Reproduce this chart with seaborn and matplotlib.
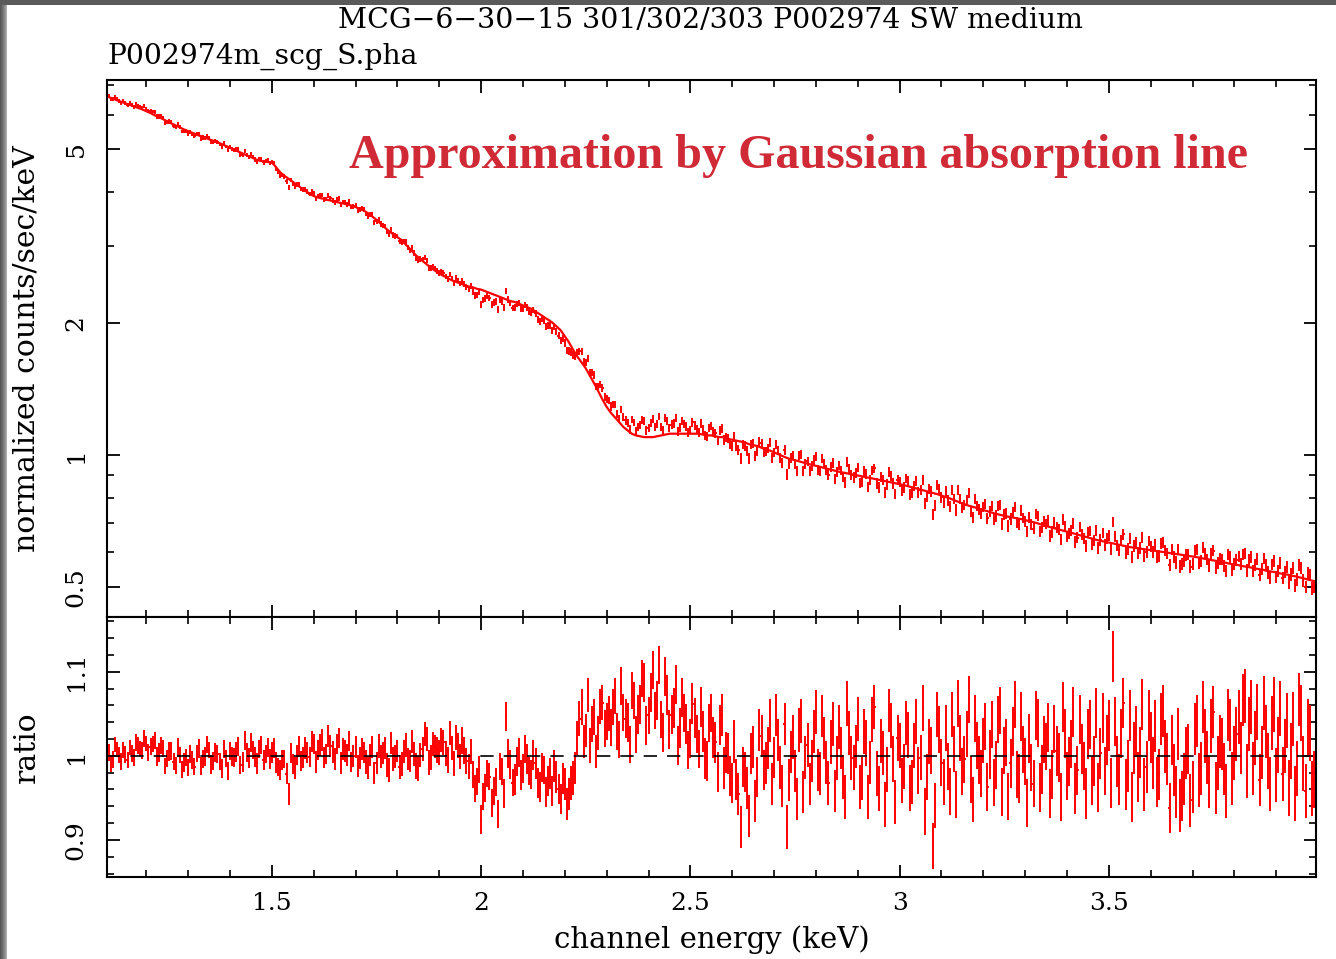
import numpy as np
import pandas as pd
import matplotlib
matplotlib.use("Agg")
import matplotlib.pyplot as plt
from matplotlib.ticker import FixedLocator, MultipleLocator, FuncFormatter, NullFormatter
from matplotlib.patches import Rectangle
import seaborn as sns

# ---------------- data ----------------
# channel set A (x.x1, x.x2, ...)
energy_a = [
    1.11, 1.12, 1.13, 1.14, 1.15, 1.16, 1.17, 1.18, 1.19, 1.20,
    1.21, 1.22, 1.23, 1.24, 1.25, 1.26, 1.27, 1.28, 1.29, 1.30,
    1.31, 1.32, 1.33, 1.34, 1.35, 1.36, 1.37, 1.38, 1.39, 1.40,
    1.41, 1.42, 1.43, 1.44, 1.45, 1.46, 1.47, 1.48, 1.49, 1.50,
    1.51, 1.52, 1.53, 1.54, 1.55, 1.56, 1.57, 1.58, 1.59, 1.60,
    1.61, 1.62, 1.63, 1.64, 1.65, 1.66, 1.67, 1.68, 1.69, 1.70,
    1.71, 1.72, 1.73, 1.74, 1.75, 1.76, 1.77, 1.78, 1.79, 1.80,
    1.81, 1.82, 1.83, 1.84, 1.85, 1.86, 1.87, 1.88, 1.89, 1.90,
    1.91, 1.92, 1.93, 1.94, 1.95, 1.96, 1.97, 1.98, 1.99, 2.00,
    2.01, 2.02, 2.03, 2.04, 2.05, 2.06, 2.07, 2.08, 2.09, 2.10,
    2.11, 2.12, 2.13, 2.14, 2.15, 2.16, 2.17, 2.18, 2.19, 2.20,
    2.21, 2.22, 2.23, 2.24, 2.25, 2.26, 2.27, 2.28, 2.29, 2.30,
    2.31, 2.32, 2.33, 2.34, 2.35, 2.36, 2.37, 2.38, 2.39, 2.40,
    2.41, 2.42, 2.43, 2.44, 2.45, 2.46, 2.47, 2.48, 2.49, 2.50,
    2.51, 2.52, 2.53, 2.54, 2.55, 2.56, 2.57, 2.58, 2.59, 2.60,
    2.61, 2.62, 2.63, 2.64, 2.65, 2.66, 2.67, 2.68, 2.69, 2.70,
    2.71, 2.72, 2.73, 2.74, 2.75, 2.76, 2.77, 2.78, 2.79, 2.80,
    2.81, 2.82, 2.83, 2.84, 2.85, 2.86, 2.87, 2.88, 2.89, 2.90,
    2.91, 2.92, 2.93, 2.94, 2.95, 2.96, 2.97, 2.98, 2.99, 3.00,
    3.01, 3.02, 3.03, 3.04, 3.05, 3.06, 3.07, 3.08, 3.09, 3.10,
    3.11, 3.12, 3.13, 3.14, 3.15, 3.16, 3.17, 3.18, 3.19, 3.20,
    3.21, 3.22, 3.23, 3.24, 3.25, 3.26, 3.27, 3.28, 3.29, 3.30,
    3.31, 3.32, 3.33, 3.34, 3.35, 3.36, 3.37, 3.38, 3.39, 3.40,
    3.41, 3.42, 3.43, 3.44, 3.45, 3.46, 3.47, 3.48, 3.49, 3.50,
    3.51, 3.52, 3.53, 3.54, 3.55, 3.56, 3.57, 3.58, 3.59, 3.60,
    3.61, 3.62, 3.63, 3.64, 3.65, 3.66, 3.67, 3.68, 3.69, 3.70,
    3.71, 3.72, 3.73, 3.74, 3.75, 3.76, 3.77, 3.78, 3.79, 3.80,
    3.81, 3.82, 3.83, 3.84, 3.85, 3.86, 3.87, 3.88, 3.89, 3.90,
    3.91, 3.92, 3.93, 3.94, 3.95, 3.96, 3.97, 3.98, 3.99,
]

model_a = [
    6.58, 6.53, 6.47, 6.42, 6.37, 6.32, 6.27, 6.22, 6.17, 6.11,
    6.05, 5.98, 5.92, 5.86, 5.79, 5.73, 5.67, 5.61, 5.55, 5.50,
    5.45, 5.40, 5.36, 5.32, 5.27, 5.23, 5.19, 5.14, 5.09, 5.04,
    4.99, 4.94, 4.89, 4.84, 4.80, 4.75, 4.71, 4.69, 4.68, 4.66,
    4.55, 4.43, 4.35, 4.28, 4.21, 4.15, 4.08, 4.02, 3.96, 3.91,
    3.88, 3.86, 3.84, 3.82, 3.80, 3.78, 3.76, 3.74, 3.72, 3.69,
    3.66, 3.62, 3.57, 3.51, 3.45, 3.38, 3.31, 3.25, 3.20, 3.15,
    3.10, 3.03, 2.96, 2.89, 2.83, 2.78, 2.73, 2.68, 2.64, 2.60,
    2.57, 2.54, 2.51, 2.49, 2.47, 2.45, 2.43, 2.42, 2.40, 2.39,
    2.37, 2.35, 2.33, 2.31, 2.29, 2.27, 2.25, 2.24, 2.22, 2.20,
    2.18, 2.16, 2.13, 2.10, 2.07, 2.04, 2.01, 1.97, 1.93, 1.87,
    1.81, 1.74, 1.68, 1.63, 1.58, 1.52, 1.46, 1.40, 1.34, 1.29,
    1.25, 1.22, 1.19, 1.16, 1.14, 1.12, 1.11, 1.105, 1.10, 1.10,
    1.10, 1.105, 1.11, 1.115, 1.12, 1.12, 1.12, 1.12, 1.12, 1.12,
    1.12, 1.12, 1.115, 1.11, 1.11, 1.105, 1.10, 1.10, 1.09, 1.085,
    1.08, 1.075, 1.07, 1.06, 1.055, 1.05, 1.04, 1.03, 1.025, 1.015,
    1.005, 0.995, 0.987, 0.980, 0.974, 0.968, 0.962, 0.956, 0.951, 0.946,
    0.941, 0.935, 0.930, 0.925, 0.920, 0.915, 0.911, 0.907, 0.903, 0.899,
    0.895, 0.891, 0.887, 0.883, 0.879, 0.875, 0.871, 0.867, 0.863, 0.859,
    0.855, 0.850, 0.845, 0.840, 0.835, 0.830, 0.825, 0.820, 0.815, 0.809,
    0.803, 0.797, 0.790, 0.783, 0.776, 0.770, 0.765, 0.760, 0.755, 0.750,
    0.745, 0.740, 0.735, 0.731, 0.727, 0.724, 0.721, 0.718, 0.715, 0.711,
    0.707, 0.703, 0.699, 0.694, 0.690, 0.685, 0.681, 0.677, 0.673, 0.669,
    0.665, 0.661, 0.657, 0.653, 0.649, 0.645, 0.641, 0.638, 0.635, 0.632,
    0.629, 0.626, 0.623, 0.620, 0.617, 0.615, 0.613, 0.611, 0.609, 0.607,
    0.605, 0.603, 0.601, 0.599, 0.597, 0.595, 0.593, 0.591, 0.589, 0.587,
    0.585, 0.583, 0.580, 0.578, 0.575, 0.573, 0.570, 0.568, 0.565, 0.563,
    0.561, 0.558, 0.556, 0.554, 0.551, 0.549, 0.547, 0.544, 0.542, 0.540,
    0.537, 0.535, 0.533, 0.530, 0.528, 0.525, 0.522, 0.519, 0.516,
]

ratio_a = [
    1.004, 0.996, 1.008, 0.993, 1.002, 1.010, 0.998, 1.012, 1.006, 1.015,
    1.011, 1.018, 1.004, 1.009, 0.997, 1.006, 0.989, 1.001, 0.992, 0.986,
    0.995, 1.003, 0.988, 0.999, 1.007, 0.994, 1.002, 0.985, 0.997, 1.006,
    0.998, 1.011, 0.993, 1.004, 1.016, 0.999, 1.008, 0.995, 1.010, 1.004,
    0.992, 0.983, 0.996, 0.955, 0.990, 1.001, 0.994, 1.009, 0.999, 1.014,
    1.007, 1.019, 1.002, 1.012, 0.996, 1.021, 1.008, 1.001, 0.993, 1.010,
    0.997, 1.004, 0.986, 1.011, 0.992, 0.999, 1.009, 0.983, 0.996, 1.006,
    0.990, 1.013, 0.994, 1.002, 0.985, 1.008, 1.020, 0.998, 1.011, 1.004,
    1.016, 0.995, 1.009, 1.022, 0.999, 1.006, 0.987, 0.978, 0.969, 0.924,
    0.962, 0.975, 0.958, 0.931, 0.981, 1.047, 0.990, 0.972, 1.004, 0.985,
    0.996, 0.978, 0.991, 0.963, 0.983, 0.970, 0.958, 0.975, 0.949, 0.966,
    0.955, 0.974, 1.021, 1.058, 1.030, 1.012, 1.046, 1.027, 1.063, 1.041,
    1.034, 1.071, 1.019, 1.052, 1.040, 1.078, 1.025, 1.061, 1.087, 1.048,
    1.102, 1.066, 1.043, 1.094, 1.031, 1.057, 1.012, 1.069, 1.038, 1.021,
    1.045, 1.008, 1.029, 0.994, 1.051, 1.016, 1.037, 0.985, 1.003, 0.968,
    0.972, 0.915, 0.981, 0.928, 1.010, 0.975, 1.024, 0.991, 1.042, 0.998,
    1.019, 0.964, 0.915, 1.005, 0.982, 1.031, 0.957, 1.013, 0.994, 1.052,
    0.979, 1.021, 0.968, 1.038, 0.997, 1.009, 0.951, 1.027, 0.986, 1.044,
    0.973, 1.015, 0.992, 1.058, 0.961, 1.003, 0.984, 1.036, 0.945, 1.012,
    0.987, 1.025, 0.969, 1.041, 0.998, 0.934, 1.017, 0.893, 1.049, 0.992,
    1.033, 0.958, 1.008, 1.062, 0.981, 1.026, 0.972, 1.044, 0.995, 1.018,
    0.963, 1.037, 0.989, 1.054, 1.006, 0.952, 1.029, 0.978, 1.047, 0.993,
    1.021, 0.967, 1.039, 0.984, 1.011, 0.955, 1.032, 0.998, 1.058, 0.976,
    1.014, 0.961, 1.043, 0.988, 1.026, 0.971, 1.051, 1.003, 0.982, 1.036,
    1.118, 0.993, 1.027, 0.966, 1.048, 1.009, 0.975, 1.061, 0.987, 1.022,
    1.035, 0.978, 1.053, 0.996, 1.019, 0.957, 0.941, 0.972, 1.008, 0.963,
    1.041, 0.985, 1.024, 0.969, 1.052, 0.991, 1.014, 0.958, 1.037, 1.003,
    1.046, 1.066, 0.982, 1.058, 1.021, 0.971, 1.063, 0.994, 1.039, 0.977,
    1.056, 1.012, 0.962, 1.044, 0.985, 1.051, 0.958, 1.027, 0.972,
]

err_a = [
    0.010, 0.010, 0.009, 0.010, 0.010, 0.009, 0.010, 0.010, 0.010, 0.009,
    0.010, 0.010, 0.011, 0.010, 0.010, 0.011, 0.010, 0.010, 0.011, 0.010,
    0.011, 0.010, 0.011, 0.011, 0.010, 0.011, 0.011, 0.011, 0.010, 0.011,
    0.011, 0.011, 0.012, 0.011, 0.011, 0.012, 0.011, 0.012, 0.011, 0.012,
    0.012, 0.012, 0.011, 0.013, 0.012, 0.012, 0.012, 0.013, 0.012, 0.012,
    0.012, 0.013, 0.012, 0.013, 0.013, 0.012, 0.013, 0.013, 0.012, 0.013,
    0.013, 0.013, 0.014, 0.013, 0.013, 0.014, 0.013, 0.014, 0.014, 0.013,
    0.014, 0.014, 0.013, 0.014, 0.015, 0.014, 0.014, 0.015, 0.014, 0.015,
    0.015, 0.015, 0.014, 0.015, 0.015, 0.016, 0.015, 0.016, 0.016, 0.017,
    0.017, 0.016, 0.017, 0.017, 0.016, 0.017, 0.017, 0.018, 0.017, 0.017,
    0.018, 0.017, 0.018, 0.018, 0.017, 0.018, 0.018, 0.019, 0.018, 0.019,
    0.019, 0.020, 0.020, 0.021, 0.020, 0.021, 0.021, 0.020, 0.021, 0.022,
    0.022, 0.021, 0.022, 0.022, 0.023, 0.022, 0.022, 0.023, 0.023, 0.022,
    0.023, 0.023, 0.022, 0.023, 0.023, 0.024, 0.023, 0.023, 0.024, 0.023,
    0.024, 0.023, 0.024, 0.024, 0.023, 0.024, 0.024, 0.025, 0.024, 0.024,
    0.024, 0.025, 0.024, 0.025, 0.025, 0.024, 0.025, 0.025, 0.025, 0.024,
    0.025, 0.025, 0.026, 0.025, 0.025, 0.026, 0.025, 0.026, 0.025, 0.026,
    0.026, 0.025, 0.026, 0.026, 0.026, 0.025, 0.026, 0.026, 0.027, 0.026,
    0.026, 0.027, 0.026, 0.026, 0.027, 0.026, 0.027, 0.027, 0.026, 0.027,
    0.027, 0.027, 0.026, 0.027, 0.027, 0.028, 0.027, 0.027, 0.027, 0.028,
    0.027, 0.028, 0.027, 0.028, 0.028, 0.027, 0.028, 0.028, 0.028, 0.027,
    0.028, 0.028, 0.029, 0.028, 0.028, 0.028, 0.029, 0.028, 0.029, 0.028,
    0.029, 0.028, 0.029, 0.029, 0.028, 0.029, 0.029, 0.029, 0.030, 0.029,
    0.029, 0.030, 0.029, 0.029, 0.030, 0.029, 0.030, 0.030, 0.029, 0.030,
    0.030, 0.030, 0.029, 0.030, 0.030, 0.031, 0.030, 0.030, 0.031, 0.030,
    0.031, 0.030, 0.031, 0.031, 0.030, 0.031, 0.031, 0.031, 0.030, 0.031,
    0.031, 0.031, 0.032, 0.031, 0.031, 0.032, 0.031, 0.032, 0.031, 0.032,
    0.032, 0.031, 0.032, 0.032, 0.032, 0.031, 0.032, 0.033, 0.032, 0.032,
    0.033, 0.032, 0.033, 0.032, 0.033, 0.033, 0.032, 0.033, 0.034,
]

# channel set B (x.x15, x.x25, ...), interleaved with set A
energy_b = [
    1.115, 1.125, 1.135, 1.145, 1.155, 1.165, 1.175, 1.185, 1.195, 1.205,
    1.215, 1.225, 1.235, 1.245, 1.255, 1.265, 1.275, 1.285, 1.295, 1.305,
    1.315, 1.325, 1.335, 1.345, 1.355, 1.365, 1.375, 1.385, 1.395, 1.405,
    1.415, 1.425, 1.435, 1.445, 1.455, 1.465, 1.475, 1.485, 1.495, 1.505,
    1.515, 1.525, 1.535, 1.545, 1.555, 1.565, 1.575, 1.585, 1.595, 1.605,
    1.615, 1.625, 1.635, 1.645, 1.655, 1.665, 1.675, 1.685, 1.695, 1.705,
    1.715, 1.725, 1.735, 1.745, 1.755, 1.765, 1.775, 1.785, 1.795, 1.805,
    1.815, 1.825, 1.835, 1.845, 1.855, 1.865, 1.875, 1.885, 1.895, 1.905,
    1.915, 1.925, 1.935, 1.945, 1.955, 1.965, 1.975, 1.985, 1.995, 2.005,
    2.015, 2.025, 2.035, 2.045, 2.055, 2.065, 2.075, 2.085, 2.095, 2.105,
    2.115, 2.125, 2.135, 2.145, 2.155, 2.165, 2.175, 2.185, 2.195, 2.205,
    2.215, 2.225, 2.235, 2.245, 2.255, 2.265, 2.275, 2.285, 2.295, 2.305,
    2.315, 2.325, 2.335, 2.345, 2.355, 2.365, 2.375, 2.385, 2.395, 2.405,
    2.415, 2.425, 2.435, 2.445, 2.455, 2.465, 2.475, 2.485, 2.495, 2.505,
    2.515, 2.525, 2.535, 2.545, 2.555, 2.565, 2.575, 2.585, 2.595, 2.605,
    2.615, 2.625, 2.635, 2.645, 2.655, 2.665, 2.675, 2.685, 2.695, 2.705,
    2.715, 2.725, 2.735, 2.745, 2.755, 2.765, 2.775, 2.785, 2.795, 2.805,
    2.815, 2.825, 2.835, 2.845, 2.855, 2.865, 2.875, 2.885, 2.895, 2.905,
    2.915, 2.925, 2.935, 2.945, 2.955, 2.965, 2.975, 2.985, 2.995, 3.005,
    3.015, 3.025, 3.035, 3.045, 3.055, 3.065, 3.075, 3.085, 3.095, 3.105,
    3.115, 3.125, 3.135, 3.145, 3.155, 3.165, 3.175, 3.185, 3.195, 3.205,
    3.215, 3.225, 3.235, 3.245, 3.255, 3.265, 3.275, 3.285, 3.295, 3.305,
    3.315, 3.325, 3.335, 3.345, 3.355, 3.365, 3.375, 3.385, 3.395, 3.405,
    3.415, 3.425, 3.435, 3.445, 3.455, 3.465, 3.475, 3.485, 3.495, 3.505,
    3.515, 3.525, 3.535, 3.545, 3.555, 3.565, 3.575, 3.585, 3.595, 3.605,
    3.615, 3.625, 3.635, 3.645, 3.655, 3.665, 3.675, 3.685, 3.695, 3.705,
    3.715, 3.725, 3.735, 3.745, 3.755, 3.765, 3.775, 3.785, 3.795, 3.805,
    3.815, 3.825, 3.835, 3.845, 3.855, 3.865, 3.875, 3.885, 3.895, 3.905,
    3.915, 3.925, 3.935, 3.945, 3.955, 3.965, 3.975, 3.985,
]

model_b = [
    6.555, 6.50, 6.445, 6.395, 6.345, 6.295, 6.245, 6.195, 6.14, 6.08,
    6.015, 5.95, 5.89, 5.825, 5.76, 5.70, 5.64, 5.58, 5.525, 5.475,
    5.425, 5.38, 5.34, 5.295, 5.25, 5.21, 5.165, 5.115, 5.065, 5.015,
    4.965, 4.915, 4.865, 4.82, 4.775, 4.73, 4.70, 4.685, 4.67, 4.61,
    4.49, 4.39, 4.315, 4.245, 4.18, 4.115, 4.05, 3.99, 3.935, 3.895,
    3.87, 3.85, 3.83, 3.81, 3.79, 3.77, 3.75, 3.73, 3.705, 3.675,
    3.64, 3.595, 3.54, 3.48, 3.415, 3.345, 3.28, 3.225, 3.175, 3.125,
    3.065, 2.995, 2.925, 2.86, 2.805, 2.755, 2.705, 2.66, 2.62, 2.585,
    2.555, 2.525, 2.50, 2.48, 2.46, 2.44, 2.425, 2.41, 2.395, 2.38,
    2.36, 2.34, 2.32, 2.30, 2.28, 2.26, 2.245, 2.23, 2.21, 2.19,
    2.17, 2.145, 2.115, 2.085, 2.055, 2.025, 1.99, 1.95, 1.90, 1.84,
    1.775, 1.71, 1.655, 1.605, 1.55, 1.49, 1.43, 1.37, 1.315, 1.27,
    1.235, 1.205, 1.175, 1.15, 1.13, 1.115, 1.107, 1.102, 1.10, 1.10,
    1.102, 1.107, 1.112, 1.117, 1.12, 1.12, 1.12, 1.12, 1.12, 1.12,
    1.12, 1.117, 1.112, 1.11, 1.107, 1.102, 1.10, 1.095, 1.087, 1.082,
    1.077, 1.072, 1.065, 1.057, 1.052, 1.045, 1.035, 1.027, 1.02, 1.01,
    1.00, 0.991, 0.983, 0.977, 0.971, 0.965, 0.959, 0.953, 0.948, 0.943,
    0.938, 0.932, 0.927, 0.922, 0.917, 0.913, 0.909, 0.905, 0.901, 0.897,
    0.893, 0.889, 0.885, 0.881, 0.877, 0.873, 0.869, 0.865, 0.861, 0.857,
    0.852, 0.847, 0.842, 0.837, 0.832, 0.827, 0.822, 0.817, 0.812, 0.806,
    0.800, 0.793, 0.786, 0.779, 0.773, 0.767, 0.762, 0.757, 0.752, 0.747,
    0.742, 0.737, 0.733, 0.729, 0.725, 0.722, 0.719, 0.716, 0.713, 0.709,
    0.705, 0.701, 0.696, 0.692, 0.687, 0.683, 0.679, 0.675, 0.671, 0.667,
    0.663, 0.659, 0.655, 0.651, 0.647, 0.643, 0.639, 0.636, 0.633, 0.630,
    0.627, 0.624, 0.621, 0.618, 0.616, 0.614, 0.612, 0.610, 0.608, 0.606,
    0.604, 0.602, 0.600, 0.598, 0.596, 0.594, 0.592, 0.590, 0.588, 0.586,
    0.584, 0.581, 0.579, 0.576, 0.574, 0.571, 0.569, 0.566, 0.564, 0.562,
    0.559, 0.557, 0.555, 0.552, 0.550, 0.548, 0.545, 0.543, 0.541, 0.538,
    0.536, 0.534, 0.531, 0.529, 0.526, 0.523, 0.520, 0.517,
]

ratio_b = [
    0.991, 1.013, 1.001, 1.007, 0.995, 1.003, 1.016, 1.009, 1.021, 1.004,
    1.014, 0.999, 1.012, 0.988, 1.005, 0.993, 1.010, 0.984, 0.998, 1.002,
    0.987, 1.009, 0.996, 1.013, 0.990, 1.004, 0.993, 1.008, 0.982, 0.999,
    1.005, 0.989, 1.018, 0.997, 1.007, 0.991, 1.013, 1.002, 0.996, 1.009,
    0.987, 0.995, 0.979, 1.003, 0.986, 1.011, 0.998, 1.004, 1.017, 0.993,
    1.013, 0.998, 1.024, 1.005, 1.014, 0.991, 1.006, 1.018, 1.000, 0.988,
    1.008, 0.993, 1.001, 0.980, 1.012, 1.003, 0.989, 1.015, 0.999, 0.987,
    1.005, 0.996, 1.017, 0.988, 1.001, 1.026, 0.992, 1.014, 1.007, 1.019,
    1.003, 1.027, 0.991, 1.012, 1.018, 0.994, 1.005, 0.961, 0.984, 0.952,
    0.979, 0.944, 0.969, 0.987, 0.955, 1.003, 0.968, 0.993, 0.977, 1.008,
    0.982, 1.001, 0.968, 0.986, 0.957, 0.979, 0.988, 0.961, 0.973, 0.943,
    0.968, 0.986, 1.044, 1.017, 1.072, 1.038, 1.005, 1.059, 1.033, 1.050,
    1.058, 1.029, 1.083, 1.044, 1.013, 1.066, 1.049, 1.092, 1.036, 1.075,
    1.054, 1.108, 1.028, 1.072, 1.049, 1.085, 1.033, 1.051, 1.007, 1.062,
    1.026, 1.058, 0.997, 1.039, 1.022, 0.981, 1.048, 1.004, 0.976, 1.017,
    0.955, 0.987, 0.962, 1.003, 0.946, 1.031, 0.983, 1.009, 0.967, 1.048,
    0.986, 1.038, 0.971, 1.022, 0.949, 1.041, 0.998, 0.966, 1.029, 0.983,
    1.047, 0.992, 1.016, 0.958, 1.034, 0.975, 1.062, 0.997, 1.011, 0.963,
    1.029, 0.951, 1.043, 0.979, 1.018, 0.942, 1.054, 0.996, 1.021, 0.971,
    1.039, 0.962, 1.012, 0.983, 1.057, 0.975, 1.006, 0.941, 1.031, 0.969,
    0.987, 1.049, 0.954, 1.021, 0.996, 1.067, 0.948, 1.012, 0.979, 1.035,
    1.002, 0.968, 1.043, 0.957, 1.016, 0.991, 1.061, 0.973, 1.008, 0.944,
    0.986, 1.048, 0.962, 1.019, 1.034, 0.978, 1.006, 0.951, 1.027, 0.993,
    1.052, 0.983, 1.008, 0.955, 1.037, 0.994, 0.962, 1.045, 1.019, 0.968,
    1.041, 0.972, 1.063, 0.988, 0.951, 1.029, 1.004, 0.966, 1.048, 0.991,
    0.969, 1.044, 1.011, 0.938, 0.983, 1.026, 0.952, 1.003, 0.947, 1.032,
    0.971, 1.058, 0.998, 1.035, 0.962, 1.017, 0.984, 1.049, 0.973, 1.026,
    1.009, 1.071, 1.038, 0.985, 1.052, 1.004, 1.029, 0.967, 1.061, 1.013,
    0.978, 1.042, 1.006, 0.955, 1.067, 0.991, 1.033, 0.961,
]

err_b = [
    0.010, 0.009, 0.010, 0.010, 0.009, 0.010, 0.010, 0.009, 0.010, 0.010,
    0.010, 0.011, 0.010, 0.010, 0.011, 0.010, 0.011, 0.010, 0.010, 0.011,
    0.010, 0.011, 0.011, 0.010, 0.011, 0.011, 0.010, 0.011, 0.011, 0.011,
    0.012, 0.011, 0.011, 0.012, 0.011, 0.012, 0.011, 0.011, 0.012, 0.012,
    0.011, 0.012, 0.012, 0.012, 0.013, 0.012, 0.012, 0.013, 0.012, 0.013,
    0.013, 0.012, 0.013, 0.013, 0.012, 0.013, 0.013, 0.012, 0.013, 0.013,
    0.013, 0.014, 0.013, 0.013, 0.014, 0.013, 0.014, 0.013, 0.014, 0.014,
    0.014, 0.013, 0.014, 0.015, 0.014, 0.014, 0.015, 0.014, 0.015, 0.014,
    0.015, 0.014, 0.015, 0.015, 0.016, 0.015, 0.015, 0.016, 0.016, 0.016,
    0.016, 0.017, 0.017, 0.016, 0.017, 0.017, 0.016, 0.017, 0.018, 0.017,
    0.017, 0.018, 0.018, 0.017, 0.018, 0.018, 0.019, 0.018, 0.018, 0.019,
    0.020, 0.019, 0.021, 0.020, 0.020, 0.021, 0.020, 0.021, 0.022, 0.021,
    0.021, 0.022, 0.022, 0.023, 0.022, 0.022, 0.023, 0.022, 0.023, 0.023,
    0.022, 0.023, 0.023, 0.024, 0.023, 0.023, 0.024, 0.023, 0.023, 0.024,
    0.023, 0.024, 0.024, 0.023, 0.024, 0.024, 0.025, 0.024, 0.024, 0.025,
    0.025, 0.024, 0.025, 0.024, 0.025, 0.025, 0.024, 0.025, 0.025, 0.025,
    0.026, 0.025, 0.025, 0.026, 0.025, 0.026, 0.026, 0.025, 0.026, 0.025,
    0.025, 0.026, 0.026, 0.025, 0.026, 0.026, 0.027, 0.026, 0.026, 0.026,
    0.027, 0.026, 0.027, 0.027, 0.026, 0.027, 0.026, 0.027, 0.027, 0.027,
    0.026, 0.027, 0.027, 0.028, 0.027, 0.027, 0.028, 0.027, 0.028, 0.027,
    0.028, 0.027, 0.028, 0.027, 0.028, 0.028, 0.027, 0.028, 0.028, 0.028,
    0.029, 0.028, 0.028, 0.029, 0.028, 0.029, 0.028, 0.029, 0.028, 0.029,
    0.028, 0.029, 0.029, 0.028, 0.029, 0.029, 0.030, 0.029, 0.029, 0.029,
    0.030, 0.029, 0.030, 0.030, 0.029, 0.030, 0.029, 0.030, 0.030, 0.030,
    0.029, 0.030, 0.030, 0.031, 0.030, 0.030, 0.030, 0.031, 0.030, 0.031,
    0.030, 0.031, 0.031, 0.030, 0.031, 0.031, 0.030, 0.031, 0.031, 0.031,
    0.032, 0.031, 0.031, 0.032, 0.031, 0.032, 0.031, 0.031, 0.032, 0.032,
    0.031, 0.032, 0.032, 0.032, 0.033, 0.032, 0.032, 0.032, 0.033, 0.033,
    0.032, 0.033, 0.033, 0.033, 0.032, 0.033, 0.034, 0.033,
]

bin_half_width = 0.0025  # keV

title_text = "MCG\u22126\u221230\u221215 301/302/303 P002974 SW medium"
file_text = "P002974m_scg_S.pha"
note_text = "Approximation by Gaussian absorption line"
top_ylabel = "normalized counts/sec/keV"
bot_ylabel = "ratio"
xlabel = "channel energy (keV)"
top_major = [0.5, 1, 2, 5]
top_minor = [0.6, 0.7, 0.8, 0.9, 3, 4, 6, 7]
bot_major = [0.9, 1.0, 1.1]

assert len(energy_a) == len(model_a) == len(ratio_a) == len(err_a)
assert len(energy_b) == len(model_b) == len(ratio_b) == len(err_b)

df = pd.concat([
    pd.DataFrame({"energy": energy_a, "model": model_a, "ratio": ratio_a, "err": err_a}),
    pd.DataFrame({"energy": energy_b, "model": model_b, "ratio": ratio_b, "err": err_b}),
]).sort_values("energy").reset_index(drop=True)
df["counts"] = df["model"] * df["ratio"]
df["counts_err"] = df["model"] * df["err"]

# ---------------- style ----------------
sns.set_theme(style="ticks")
plt.rcParams["font.family"] = ["DejaVu Serif"]
for k in ("text.color", "axes.labelcolor", "xtick.color", "ytick.color",
          "xtick.labelcolor", "ytick.labelcolor", "axes.edgecolor"):
    plt.rcParams[k] = "black"
plt.rcParams["axes.linewidth"] = 1.5

RED = "#ff0000"

fig = plt.figure(figsize=(13.36, 9.59), dpi=100)
fig.patch.set_facecolor("white")

W, H = 1336.0, 959.0
x0, x1 = 107 / W, 1316 / W
ax1 = fig.add_axes([x0, 1 - 617 / H, x1 - x0, (617 - 80) / H])
ax2 = fig.add_axes([x0, 1 - 877 / H, x1 - x0, (877 - 617) / H], sharex=ax1)

# frame decorations (gray border strips of the screenshot)
fig.patches.append(Rectangle((0, 1 - 5 / H), 1, 5 / H, transform=fig.transFigure,
                             facecolor="#5a5a5a", edgecolor="none", zorder=-1))
axg = fig.add_axes([0, 0, 7 / W, 1 - 5 / H])
axg.imshow([[0.34, 0.38, 0.43, 0.48, 0.54, 0.60, 0.68]], cmap="gray", vmin=0, vmax=1,
           aspect="auto")
axg.axis("off")

# ---------------- top panel ----------------
ax1.errorbar(df["energy"], df["counts"], yerr=df["counts_err"], xerr=bin_half_width,
             fmt="none", ecolor=RED, elinewidth=1.4, capsize=0, zorder=3)
sns.lineplot(data=df, x="energy", y="model", ax=ax1, color=RED, linewidth=1.6,
             estimator=None, sort=True, zorder=4)
ax1.set_yscale("log")
ax1.set_ylim(0.427, 7.2)
ax1.set_xlim(1.106, 3.995)
ax1.yaxis.set_major_locator(FixedLocator(top_major))
ax1.yaxis.set_minor_locator(FixedLocator(top_minor))
ax1.yaxis.set_major_formatter(FuncFormatter(lambda v, p: f"{v:g}"))
ax1.yaxis.set_minor_formatter(NullFormatter())
ax1.set_xlabel("")
ax1.set_ylabel(top_ylabel, fontsize=21.5, va="center")
ax1.yaxis.set_label_coords(-0.0665, 0.5)
ax1.tick_params(axis="x", labelbottom=False)

# ---------------- ratio panel ----------------
ax2.errorbar(df["energy"], df["ratio"], yerr=df["err"], xerr=bin_half_width,
             fmt="none", ecolor=RED, elinewidth=1.4, capsize=0, zorder=3)
ax2.axhline(1.0, color="black", linestyle=(0, (8, 6)), linewidth=1.2, zorder=5)
ax2.set_ylim(0.856, 1.165)
ax2.yaxis.set_major_locator(FixedLocator(bot_major))
ax2.yaxis.set_minor_locator(MultipleLocator(0.02))
ax2.yaxis.set_major_formatter(FuncFormatter(lambda v, p: f"{v:g}"))
ax2.xaxis.set_major_locator(MultipleLocator(0.5))
ax2.xaxis.set_minor_locator(MultipleLocator(0.1))
ax2.xaxis.set_major_formatter(FuncFormatter(lambda v, p: f"{v:g}"))
ax2.set_ylabel(bot_ylabel, fontsize=21.5, va="center")
ax2.yaxis.set_label_coords(-0.0665, 0.5)
ax2.set_xlabel(xlabel, fontsize=21, va="center")
ax2.xaxis.set_label_coords(0.5, -0.242)

for ax in (ax1, ax2):
    ax.set_facecolor("white")
    ax.tick_params(which="both", direction="in", top=True, right=True,
                   bottom=True, left=True, color="black", labelcolor="black")
    ax.tick_params(which="major", length=9, width=1.3)
    ax.tick_params(which="minor", length=5, width=1.2)
    ax.tick_params(axis="y", labelsize=18, labelrotation=90, pad=14)
    ax.tick_params(axis="x", labelsize=18, pad=11)
    for lab in ax.get_yticklabels():
        lab.set_va("center")
    for s in ax.spines.values():
        s.set_linewidth(1.5)
        s.set_color("black")

# ---------------- texts ----------------
fig.text(711 / W, 1 - 20 / H, title_text, ha="center", va="center", fontsize=20.4)
fig.text(107 / W, 1 - 56 / H, file_text, ha="left", va="center", fontsize=20.3)
fig.text(349 / W, 1 - 156 / H, note_text, ha="left", va="center", fontsize=34.6,
         fontweight="bold", color="#cf2a36", family=["Liberation Serif"])

fig.savefig("out.png", dpi=100, facecolor="white")
